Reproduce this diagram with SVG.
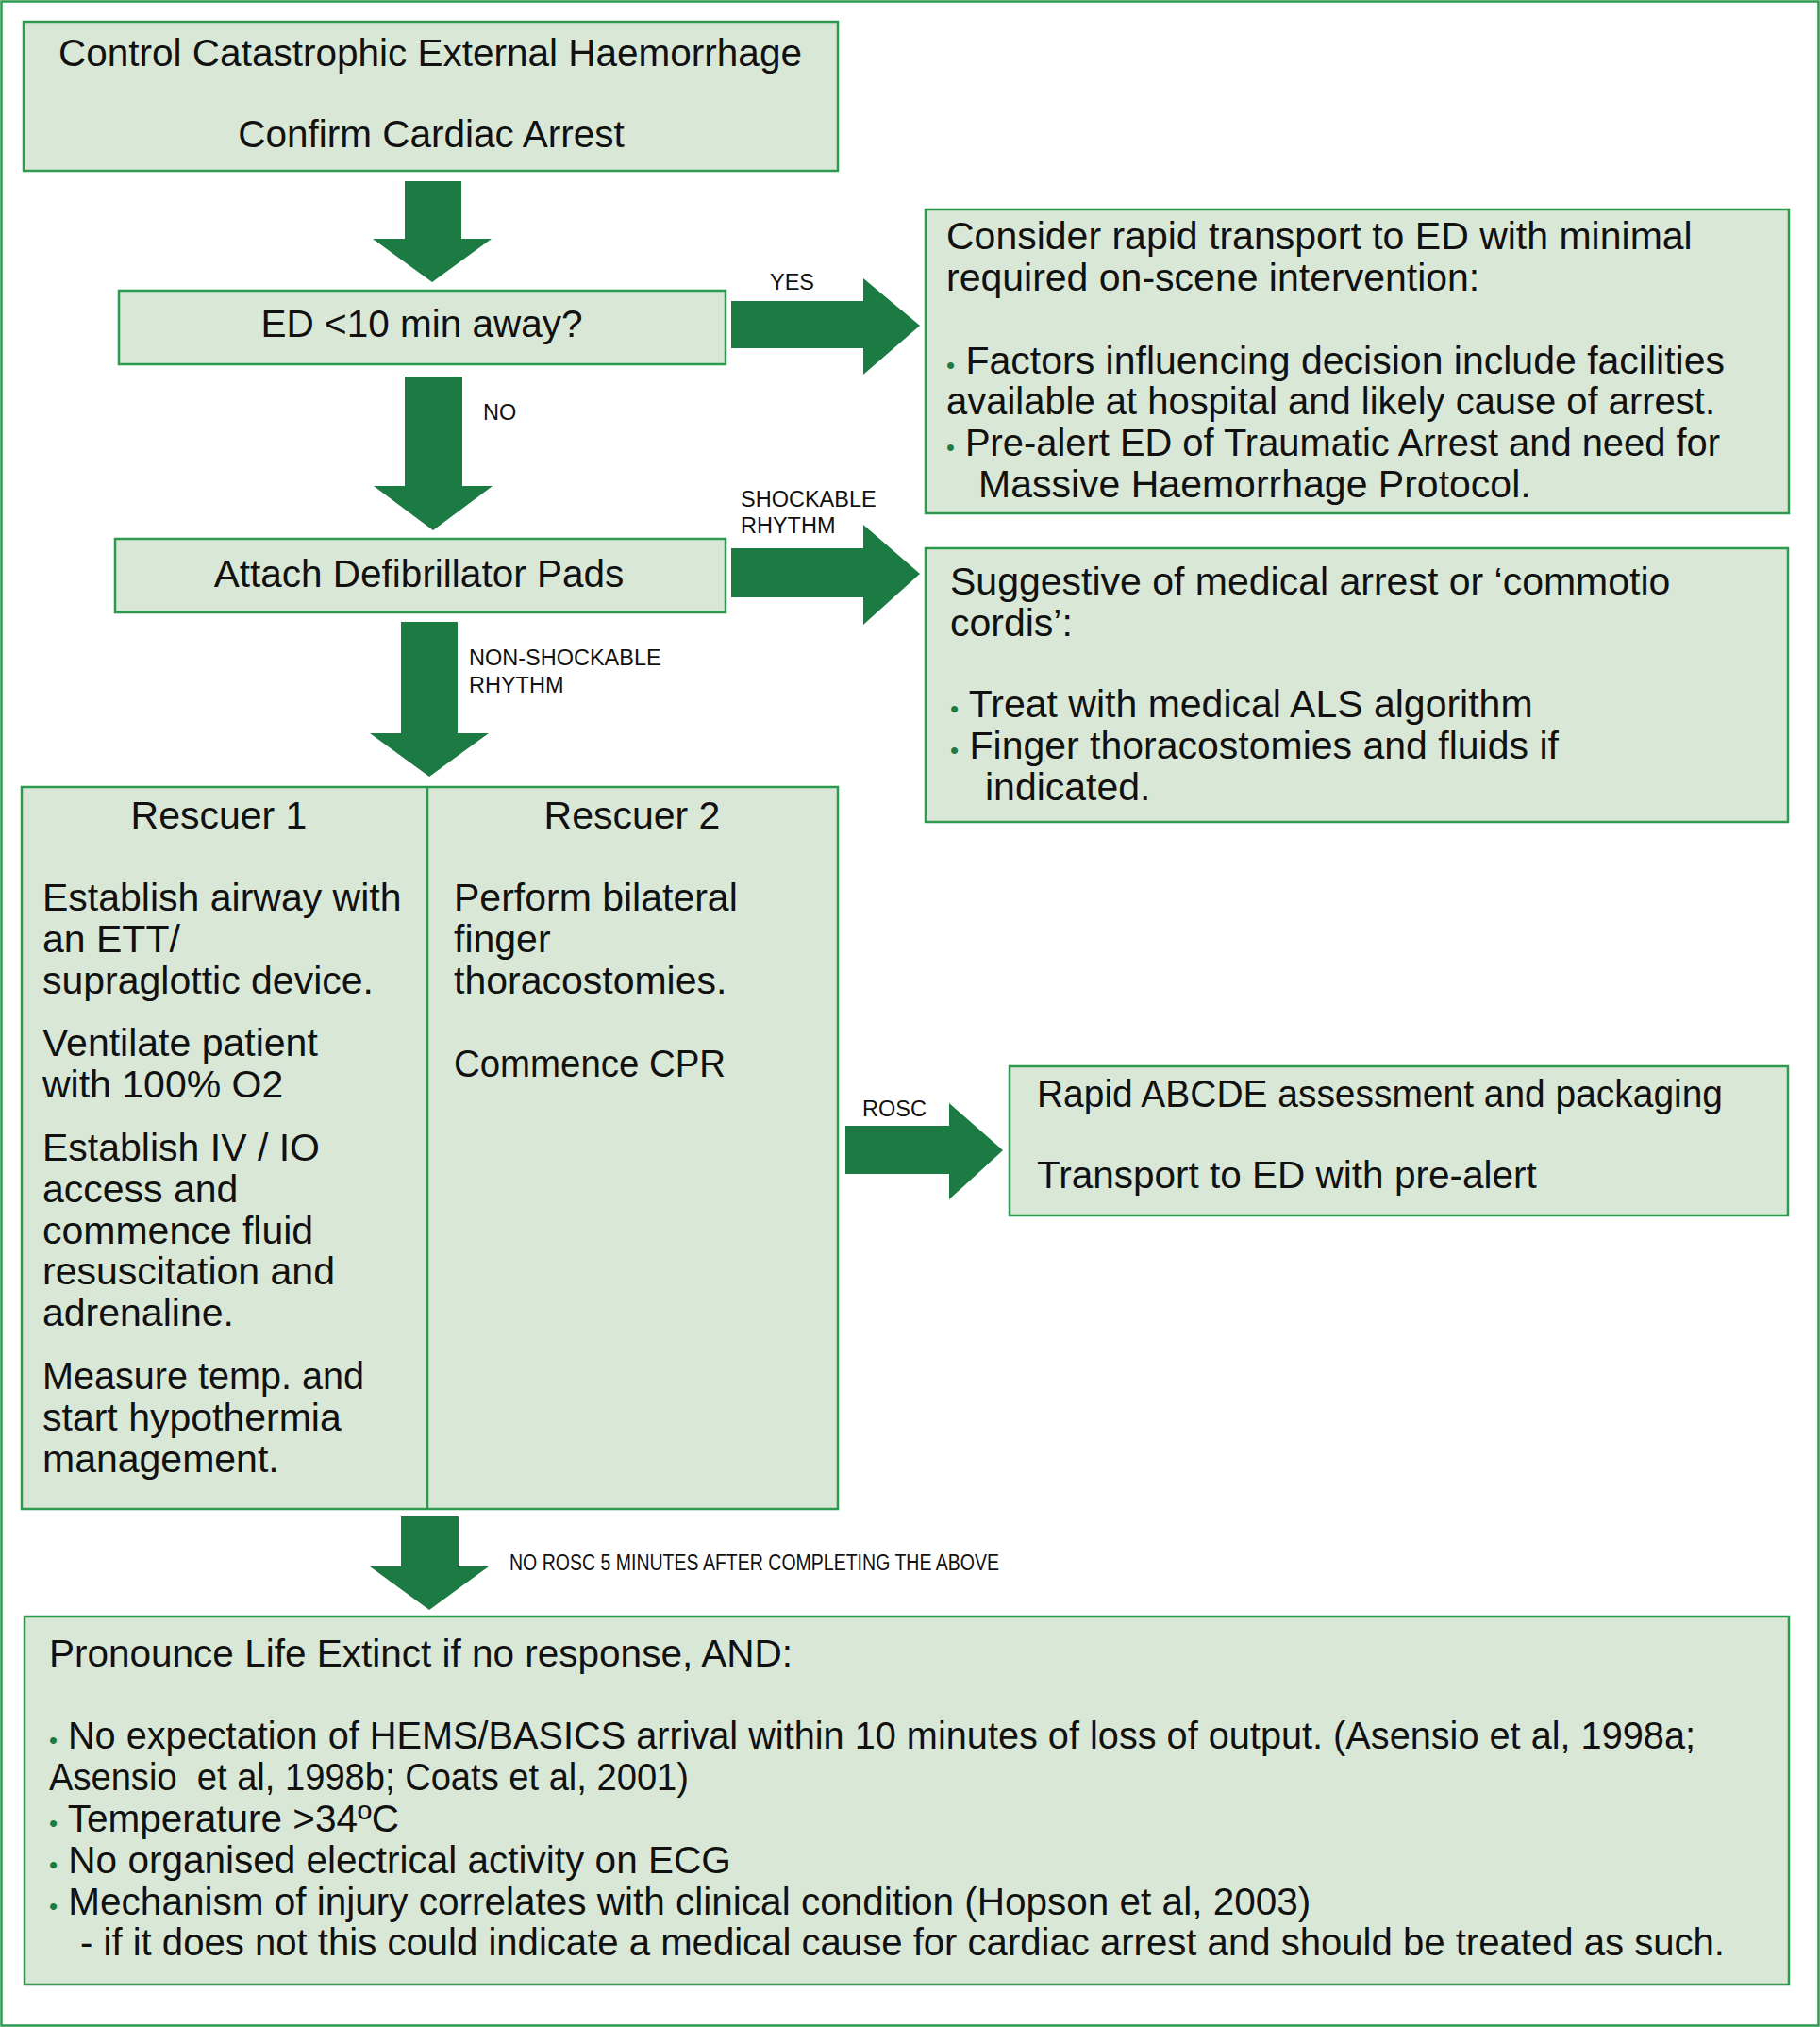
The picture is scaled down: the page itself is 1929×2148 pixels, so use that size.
<svg xmlns="http://www.w3.org/2000/svg" width="1929" height="2148" viewBox="0 0 1929 2148">
<style>
.box{fill:#d9e8d6;stroke:#2e9a4f;stroke-width:2.5}
.arr{fill:#1c7a43}
.t{font-family:"Liberation Sans",Arial,sans-serif;font-size:40.5px;fill:#111}
.r{font-size:41px}
.c{text-anchor:middle}
.lbl{font-family:"Liberation Sans",Arial,sans-serif;font-size:23.5px;fill:#111}
.b{fill:#1c7a43;font-size:26px}
</style>
<rect x="1.5" y="1.5" width="1926" height="2145" fill="#ffffff" stroke="#2e9a4f" stroke-width="2.5"/>

<g id="connectors">
  <polygon class="arr" points="429,192 489,192 489,253 521,253 458,299 395,253 429,253"/>
  <polygon class="arr" points="775,319 915,319 915,295 975,345 915,397 915,369 775,369"/>
  <polygon class="arr" points="429,399 490,399 490,515 522,515 459,562 396,515 429,515"/>
  <polygon class="arr" points="775,581 915,581 915,556 975,608 915,662 915,633 775,633"/>
  <polygon class="arr" points="425,659 485,659 485,777 518,777 455,823 392,777 425,777"/>
  <polygon class="arr" points="896,1193 1006,1193 1006,1169 1063,1219 1006,1271 1006,1244 896,1244"/>
  <polygon class="arr" points="425,1607 486,1607 486,1660 518,1660 455,1706 392,1660 425,1660"/>
  <text class="lbl" x="816" y="307">YES</text>
  <text class="lbl" x="512" y="445">NO</text>
  <text class="lbl" x="785" y="537">SHOCKABLE</text>
  <text class="lbl" x="785" y="565">RHYTHM</text>
  <text class="lbl" x="497" y="705">NON-SHOCKABLE</text>
  <text class="lbl" x="497" y="734">RHYTHM</text>
  <text class="lbl" x="914" y="1183">ROSC</text>
  <text class="lbl" x="540" y="1664" font-size="21" textLength="519" lengthAdjust="spacingAndGlyphs">NO ROSC 5 MINUTES AFTER COMPLETING THE ABOVE</text>
</g>

<g id="n-start">
  <rect class="box" x="25" y="23" width="863" height="158"/>
  <text class="t c" x="456" y="70">Control Catastrophic External Haemorrhage</text>
  <text class="t c" x="457" y="156">Confirm Cardiac Arrest</text>
</g>

<g id="n-ed">
  <rect class="box" x="126" y="308" width="643" height="78"/>
  <text class="t c" x="447" y="357" font-size="39.5">ED &lt;10 min away?</text>
</g>

<g id="n-transport">
  <rect class="box" x="981" y="222" width="915" height="322"/>
  <text class="t r" x="1003" y="264">Consider rapid transport to ED with minimal</text>
  <text class="t r" x="1003" y="308">required on-scene intervention:</text>
  <text class="t r" x="1003" y="396"><tspan class="b">•</tspan> Factors influencing decision include facilities</text>
  <text class="t r" x="1003" y="439" textLength="815" lengthAdjust="spacingAndGlyphs">available at hospital and likely cause of arrest.</text>
  <text class="t r" x="1003" y="483" textLength="820" lengthAdjust="spacingAndGlyphs"><tspan class="b">•</tspan> Pre-alert ED of Traumatic Arrest and need for</text>
  <text class="t r" x="1037" y="527">Massive Haemorrhage Protocol.</text>
</g>

<g id="n-pads">
  <rect class="box" x="122" y="571" width="647" height="78"/>
  <text class="t c" x="444" y="622">Attach Defibrillator Pads</text>
</g>

<g id="n-medical">
  <rect class="box" x="981" y="581" width="914" height="290"/>
  <text class="t r" x="1007" y="630">Suggestive of medical arrest or ‘commotio</text>
  <text class="t r" x="1007" y="674">cordis’:</text>
  <text class="t r" x="1007" y="760"><tspan class="b">•</tspan> Treat with medical ALS algorithm</text>
  <text class="t r" x="1007" y="804"><tspan class="b">•</tspan> Finger thoracostomies and fluids if</text>
  <text class="t r" x="1044" y="848">indicated.</text>
</g>

<g id="n-rescuers">
  <rect class="box" x="23" y="834" width="865" height="765"/>
  <line x1="453" y1="834" x2="453" y2="1599" stroke="#2e9a4f" stroke-width="2.5"/>
  <text class="t r c" x="232" y="878">Rescuer 1</text>
  <text class="t r c" x="670" y="878">Rescuer 2</text>
  <text class="t r" x="45" y="965">Establish airway with</text>
  <text class="t r" x="45" y="1009">an ETT/</text>
  <text class="t r" x="45" y="1053">supraglottic device.</text>
  <text class="t r" x="45" y="1119">Ventilate patient</text>
  <text class="t r" x="45" y="1163">with 100% O2</text>
  <text class="t r" x="45" y="1230">Establish IV / IO</text>
  <text class="t r" x="45" y="1274">access and</text>
  <text class="t r" x="45" y="1318">commence fluid</text>
  <text class="t r" x="45" y="1361">resuscitation and</text>
  <text class="t r" x="45" y="1405">adrenaline.</text>
  <text class="t r" x="45" y="1472" textLength="341" lengthAdjust="spacingAndGlyphs">Measure temp. and</text>
  <text class="t r" x="45" y="1516">start hypothermia</text>
  <text class="t r" x="45" y="1560">management.</text>
  <text class="t r" x="481" y="965">Perform bilateral</text>
  <text class="t r" x="481" y="1009">finger</text>
  <text class="t r" x="481" y="1053">thoracostomies.</text>
  <text class="t r" x="481" y="1141" textLength="288" lengthAdjust="spacingAndGlyphs">Commence CPR</text>
</g>

<g id="n-rosc">
  <rect class="box" x="1070" y="1130" width="825" height="158"/>
  <text class="t" x="1099" y="1173" textLength="727" lengthAdjust="spacingAndGlyphs">Rapid ABCDE assessment and packaging</text>
  <text class="t" x="1099" y="1259">Transport to ED with pre-alert</text>
</g>

<g id="n-ple">
  <rect class="box" x="26" y="1713" width="1870" height="390"/>
  <text class="t" x="52" y="1766">Pronounce Life Extinct if no response, AND:</text>
  <text class="t" x="52" y="1853" textLength="1745" lengthAdjust="spacingAndGlyphs"><tspan class="b">•</tspan> No expectation of HEMS/BASICS arrival within 10 minutes of loss of output. (Asensio et al, 1998a;</text>
  <text class="t" x="52" y="1897" xml:space="preserve" textLength="678" lengthAdjust="spacingAndGlyphs">Asensio  et al, 1998b; Coats et al, 2001)</text>
  <text class="t" x="52" y="1941"><tspan class="b">•</tspan> Temperature &gt;34ºC</text>
  <text class="t" x="52" y="1985"><tspan class="b">•</tspan> No organised electrical activity on ECG</text>
  <text class="t" x="52" y="2029"><tspan class="b">•</tspan> Mechanism of injury correlates with clinical condition (Hopson et al, 2003)</text>
  <text class="t" x="85" y="2072" textLength="1743" lengthAdjust="spacingAndGlyphs">- if it does not this could indicate a medical cause for cardiac arrest and should be treated as such.</text>
</g>
</svg>
